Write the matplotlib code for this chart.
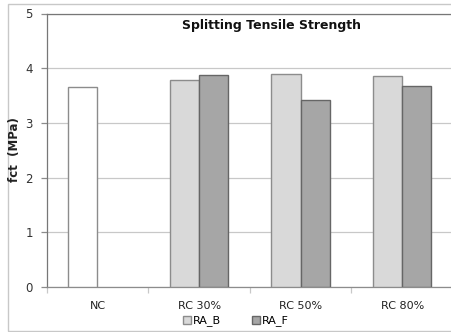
import matplotlib
matplotlib.use("Agg")
import matplotlib.pyplot as plt
from matplotlib.patches import Rectangle, Patch
import numpy as np

categories = ["NC", "RC 30%", "RC 50%", "RC 80%"]
nc_value = [3.66]
ra_b = [3.78, 3.90, 3.85]
ra_f = [3.88, 3.41, 3.68]
yticks = [0, 1, 2, 3, 4, 5]

W, H = 451, 332
fig = plt.figure(figsize=(W / 100, H / 100), dpi=100)
plt.rcParams['font.family'] = ['DejaVu Sans']

# outer chart border
fig.patches.append(Rectangle((8 / W, 1 - 331 / H), 1.2, (331 - 4) / H, transform=fig.transFigure,
                             fill=False, edgecolor="#c8c8c8", linewidth=1.0))

left, right, top, bottom = 46.7, 453, 13.5, 287
ax = fig.add_axes([left / W, 1 - bottom / H, (right - left) / W, (bottom - top) / H])

x = np.arange(len(categories))
w = 0.288
ax.bar(x[:1] - w / 2, nc_value, width=w, color="white", edgecolor="#8c8c8c", linewidth=1.0, zorder=3)
ax.bar(x[1:] - w / 2, ra_b, width=w, color="#d9d9d9", edgecolor="#8c8c8c", linewidth=1.0, zorder=3, label="RA_B")
ax.bar(x[1:] + w / 2, ra_f, width=w, color="#a6a6a6", edgecolor="#666666", linewidth=1.0, zorder=3, label="RA_F")

ax.set_xlim(-0.5, len(categories) - 0.5)
ax.set_ylim(0, 5)
ax.set_yticks(yticks)
ax.set_yticklabels([str(v) for v in yticks], fontsize=8.5, color="#333333")
ax.yaxis.grid(True, color="#c8c8c8", linewidth=0.9, zorder=0)
ax.set_axisbelow(True)

ax.set_xticks(x)
ax.set_xticklabels(categories, fontsize=8, color="#222222")
ax.tick_params(axis="x", length=0, pad=10)
ax.set_xticks(np.arange(len(categories) + 1) - 0.5, minor=True)
ax.tick_params(axis="x", which="minor", length=4, color="#c8c8c8", width=0.9)
ax.tick_params(axis="y", length=4, color="#8c8c8c", width=0.9, pad=6)

for s in ["right"]:
    ax.spines[s].set_visible(False)
ax.spines["top"].set_color("#777777")
ax.spines["left"].set_color("#777777")
ax.spines["bottom"].set_color("#8c8c8c")
for s in ax.spines.values():
    s.set_linewidth(0.9)

fig.text(15 / W, 1 - 150 / H, "fct  (MPa)", rotation=90, fontsize=8.5, fontweight="bold",
         ha="center", va="center", color="#222222")
fig.text(272 / W, 1 - 26 / H, "Splitting Tensile Strength", fontsize=9, fontweight="bold",
         ha="center", va="center", color="#111111")

handles = [Patch(facecolor="#d9d9d9", edgecolor="#8c8c8c", label="RA_B"),
           Patch(facecolor="#a6a6a6", edgecolor="#666666", label="RA_F")]
fig.legend(handles=handles, loc="center", bbox_to_anchor=(236 / W, 1 - 321 / H), ncol=2,
           frameon=False, fontsize=8, handlelength=0.7, handleheight=0.7, handletextpad=0.2,
           columnspacing=2.8, borderpad=0)

fig.savefig("out.png", dpi=100)
